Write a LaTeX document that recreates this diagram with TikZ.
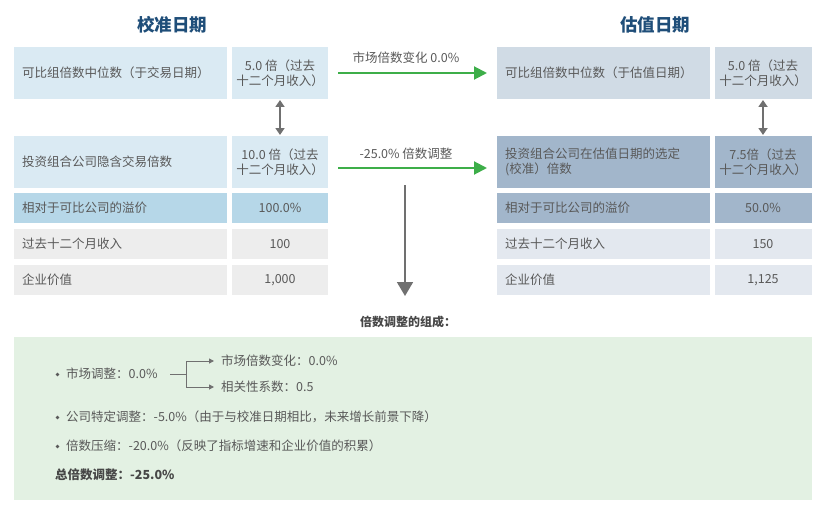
\documentclass[tikz,border=0pt]{standalone}
\usepackage{fontspec}
\setmainfont{Noto Sans CJK SC}
\usetikzlibrary{arrows.meta}
\definecolor{txt}{HTML}{595959}
\definecolor{ttl}{HTML}{1F4E79}
\definecolor{lA}{HTML}{DAEAF3}
\definecolor{lB}{HTML}{B6D7E8}
\definecolor{gC}{HTML}{EDEDED}
\definecolor{rA}{HTML}{D0DBE5}
\definecolor{rB}{HTML}{A2B6CB}
\definecolor{rC}{HTML}{E3E8EF}
\definecolor{grn}{HTML}{3DAE49}
\definecolor{gry}{HTML}{707070}
\definecolor{gbox}{HTML}{E3F1E3}
\begin{document}
\begin{tikzpicture}[x=1pt,y=-1pt,
  lbl/.style={font=\fontsize{12.5}{15}\selectfont,text=txt},
  val/.style={font=\fontsize{12.5}{15}\selectfont,text=txt,align=center},
  ttlstyle/.style={font=\fontsize{17.5}{20}\selectfont\bfseries,text=ttl},
  garrow/.style={draw=grn,line width=2pt,-{Triangle[length=13pt,width=13pt]}},
  dblarrow/.style={draw=gry,line width=2pt,{Triangle[length=7pt,width=9pt]}-{Triangle[length=7pt,width=9pt]}},
  thin/.style={draw=gry,line width=1pt},
  thinarrow/.style={draw=gry,line width=1pt,-{Triangle[length=5pt,width=5pt]}},
  btxt/.style={font=\fontsize{12.5}{15}\selectfont,text=txt,anchor=west,inner sep=0pt},
  dot/.style={circle,fill=txt,inner sep=0pt,minimum size=3.6pt}
]
\useasboundingbox (0,0) rectangle (826,516);
% titles
\node[ttlstyle] (t1) at (172,25) {校准日期};
\node[ttlstyle] (t2) at (655,25) {估值日期};
% left table
\fill[lA] (14,47) rectangle (227,99);
\fill[lA] (232,47) rectangle (328,99);
\fill[lA] (14,136) rectangle (227,188);
\fill[lA] (232,136) rectangle (328,188);
\fill[lB] (14,193) rectangle (227,223);
\fill[lB] (232,193) rectangle (328,223);
\fill[gC] (14,229) rectangle (227,259);
\fill[gC] (232,229) rectangle (328,259);
\fill[gC] (14,265) rectangle (227,295);
\fill[gC] (232,265) rectangle (328,295);
\node[lbl,anchor=west,inner sep=0pt] (l1a) at (22,73) {可比组倍数中位数（于交易日期）};
\node[val] (l1b) at (280,73) {5.0 倍（过去\\十二个月收入）};
\node[lbl,anchor=west,inner sep=0pt] (l2a) at (22,162) {投资组合公司隐含交易倍数};
\node[val] (l2b) at (280,162) {10.0 倍（过去\\十二个月收入）};
\node[lbl,anchor=west,inner sep=0pt] (l3a) at (22,208) {相对于可比公司的溢价};
\node[val] (l3b) at (280,208) {100.0\%};
\node[lbl,anchor=west,inner sep=0pt] (l4a) at (22,244) {过去十二个月收入};
\node[val] (l4b) at (280,244) {100};
\node[lbl,anchor=west,inner sep=0pt] (l5a) at (22,280) {企业价值};
\node[val] (l5b) at (280,280) {1,000};
% right table
\fill[rA] (497,47) rectangle (710,99);
\fill[rA] (715,47) rectangle (812,99);
\fill[rB] (497,136) rectangle (710,188);
\fill[rB] (715,136) rectangle (812,188);
\fill[rB] (497,193) rectangle (710,223);
\fill[rB] (715,193) rectangle (812,223);
\fill[rC] (497,229) rectangle (710,259);
\fill[rC] (715,229) rectangle (812,259);
\fill[rC] (497,265) rectangle (710,295);
\fill[rC] (715,265) rectangle (812,295);
\node[lbl,anchor=west,inner sep=0pt] (r1a) at (505,73) {可比组倍数中位数（于估值日期）};
\node[val] (r1b) at (763,73) {5.0 倍（过去\\十二个月收入）};
\node[lbl,anchor=west,align=left,inner sep=0pt] (r2a) at (505,162) {投资组合公司在估值日期的选定\\(校准）倍数};
\node[val] (r2b) at (763,162) {7.5倍（过去\\十二个月收入）};
\node[lbl,anchor=west,inner sep=0pt] (r3a) at (505,208) {相对于可比公司的溢价};
\node[val] (r3b) at (763,208) {50.0\%};
\node[lbl,anchor=west,inner sep=0pt] (r4a) at (505,244) {过去十二个月收入};
\node[val] (r4b) at (763,244) {150};
\node[lbl,anchor=west,inner sep=0pt] (r5a) at (505,280) {企业价值};
\node[val] (r5b) at (763,280) {1,125};
% double arrows
\coordinate (dl1) at (280,100); \coordinate (dl2) at (280,135);
\coordinate (dr1) at (763,100); \coordinate (dr2) at (763,135);
\draw[dblarrow] (dl1) -- (dl2);
\draw[dblarrow] (dr1) -- (dr2);
% green arrows
\coordinate (g1s) at (338,73); \coordinate (g1e) at (487,73);
\coordinate (g2s) at (338,168); \coordinate (g2e) at (487,168);
\draw[garrow] (g1s) -- (g1e);
\draw[garrow] (g2s) -- (g2e);
\node[lbl] (ga) at (406,58) {市场倍数变化 0.0\%};
\node[lbl] (gb) at (406,154) {-25.0\% 倍数调整};
% grey down arrow
\coordinate (ds) at (405,185); \coordinate (de) at (405,296);
\draw[draw=gry,line width=1.8pt,-{Triangle[length=14pt,width=16pt]}] (ds) -- (de);
\node[font=\fontsize{12}{14}\selectfont\bfseries,text=txt!80!black] (comp) at (408,322) {倍数调整的组成：};
% green box
\fill[gbox] (14,337) rectangle (812,500);
\node[dot] (b1d) at (57.5,374.5) {};
\node[btxt] (b1) at (66,374) {市场调整：0.0\%};
\node[btxt] (b1a) at (221,361) {市场倍数变化：0.0\%};
\node[btxt] (b1b) at (221,387) {相关性系数：0.5};
\coordinate (br0) at (170,374); \coordinate (br1) at (186,374);
\coordinate (br2) at (186,361); \coordinate (br3) at (186,387);
\draw[thin] (br0) -- (br1);
\draw[thin] (br2) -- (br3);
\draw[thinarrow] (br2) -- ([xshift=-7pt]b1a.west);
\draw[thinarrow] (br3) -- ([xshift=-7pt]b1b.west);
\node[dot] (b2d) at (57.5,417.5) {};
\node[btxt] (b2) at (66,417) {公司特定调整：-5.0\%（由于与校准日期相比，未来增长前景下降）};
\node[dot] (b3d) at (57.5,446.5) {};
\node[btxt] (b3) at (66,446) {倍数压缩：-20.0\%（反映了指标增速和企业价值的积累）};
\node[btxt,font=\fontsize{12.5}{15}\selectfont\bfseries,text=txt!80!black] (b4) at (55,475) {总倍数调整：-25.0\%};
\end{tikzpicture}
\end{document}
